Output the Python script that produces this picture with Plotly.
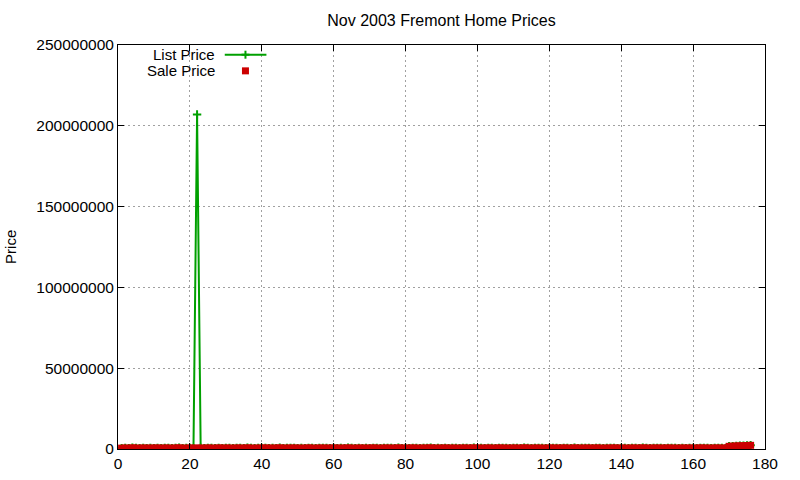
import plotly.graph_objects as go

# listing number (x) and prices in thousands of dollars
listing = list(range(1, 177))

list_price_k = [
    549, 599, 499, 749, 589, 459, 675, 525, 629, 565, 699, 495, 649, 599, 539, 610,
    739, 505, 579, 649, 569, 207000, 599, 535, 679, 599, 475, 719, 549, 639, 575, 510,
    665, 599, 545, 729, 585, 485, 649, 575, 699, 529, 609, 569, 749, 499, 635, 589,
    669, 549, 599, 525, 699, 609, 489, 659, 579, 625, 519, 695, 565, 599, 549, 729,
    579, 499, 649, 569, 619, 535, 699, 589, 479, 669, 585, 619, 515, 739, 569, 599,
    555, 689, 585, 529, 639, 579, 765, 509, 625, 565, 699, 539, 615, 589, 485, 679,
    599, 549, 729, 565, 635, 519, 679, 595, 545, 699, 579, 625, 499, 665, 589, 555,
    749, 599, 529, 649, 575, 619, 495, 699, 585, 639, 549, 689, 599, 515, 729, 565,
    619, 579, 659, 535, 695, 599, 489, 645, 575, 719, 549, 629, 585, 509, 675, 599,
    555, 735, 615, 525, 665, 589, 649, 539, 699, 579, 605, 499, 685, 565, 629, 595,
    549, 715, 585, 619, 525, 669, 599, 645, 559,
    1695, 1799, 1898, 1995, 2095, 2195, 2299,
]

sale_price_k = [
    545, 612, 489, 735, 598, 455, 680, 519, 623, 570, 702, 488, 655, 590, 533, 618,
    742, 499, 585, 640, 560, 575, 610, 528, 689, 597, 468, 715, 552, 633, 580, 505,
    660, 612, 538, 725, 590, 478, 645, 570, 698, 525, 615, 560, 750, 502, 628, 583,
    670, 545, 595, 520, 710, 600, 482, 655, 575, 630, 515, 690, 560, 605, 540, 720,
    588, 495, 648, 572, 615, 530, 705, 595, 470, 665, 580, 625, 510, 735, 565, 600,
    548, 685, 590, 520, 640, 575, 760, 505, 620, 568, 695, 535, 610, 585, 480, 672,
    598, 545, 720, 560, 630, 515, 680, 590, 540, 705, 575, 620, 498, 660, 585, 550,
    745, 600, 525, 650, 570, 615, 490, 700, 580, 635, 540, 688, 595, 510, 725, 560,
    618, 575, 655, 530, 690, 600, 485, 640, 570, 715, 545, 625, 580, 505, 670, 595,
    550, 730, 610, 520, 660, 585, 640, 535, 705, 575, 600, 495, 680, 560, 625, 590,
    545, 710, 580, 615, 520, 665, 598, 640, 555,
    1650, 1780, 1890, 1950, 2050, 2150, 2280,
]

list_price = [v * 1000 for v in list_price_k]
sale_price = [v * 1000 for v in sale_price_k]

GREEN = "#00a000"
RED = "#cc0000"
FONT = "Liberation Sans, Arial, sans-serif"

fig = go.Figure()
fig.add_trace(go.Scatter(
    x=listing, y=list_price, name="List Price", mode="lines+markers",
    line=dict(color=GREEN, width=2),
    marker=dict(symbol="cross-thin", size=6, line=dict(color=GREEN, width=2)),
))
fig.add_trace(go.Scatter(
    x=listing, y=sale_price, name="Sale Price", mode="markers",
    marker=dict(symbol="square", size=7, color=RED, line=dict(width=0)),
))

axis_style = dict(
    ticks="inside", ticklen=6, tickcolor="black",
    showline=True, linecolor="black", linewidth=1, mirror="ticks",
    showgrid=True, gridcolor="#a0a0a0", gridwidth=1, griddash="2px,3px",
    zeroline=False, automargin=False, tickfont=dict(size=15.5, color="black"),
)
fig.update_xaxes(range=[0, 180], tick0=0, dtick=20, **axis_style)
fig.update_yaxes(range=[0, 250e6], tick0=0, dtick=50e6, tickformat="d", **axis_style)

fig.add_annotation(x=-0.167, y=0.5, xref="paper", yref="paper", text="Price",
                   textangle=-90, showarrow=False, xanchor="center", yanchor="middle",
                   font=dict(size=15, color="black"))

# gnuplot-style key: text on the left, sample on the right
key_x, key_text_x = 0.197, 0.1535
key_y1, key_y2 = 0.976, 0.936
fig.add_annotation(x=key_text_x, y=key_y1, xref="paper", yref="paper", text="List Price",
                   showarrow=False, xanchor="right", yanchor="middle",
                   font=dict(size=15, color="black"))
fig.add_annotation(x=key_text_x, y=key_y2, xref="paper", yref="paper", text="Sale Price",
                   showarrow=False, xanchor="right", yanchor="middle",
                   font=dict(size=15, color="black"))
fig.add_shape(type="line", xref="paper", yref="paper", x0=0.165, x1=0.2294,
              y0=key_y1, y1=key_y1, line=dict(color=GREEN, width=2))
fig.add_shape(type="line", xref="paper", yref="paper", xsizemode="pixel", xanchor=key_x,
              x0=-4, x1=4, y0=key_y1, y1=key_y1, line=dict(color=GREEN, width=2))
fig.add_shape(type="line", xref="paper", yref="paper", ysizemode="pixel", yanchor=key_y1,
              x0=key_x, x1=key_x, y0=-4, y1=4, line=dict(color=GREEN, width=2))
fig.add_shape(type="rect", xref="paper", yref="paper", xsizemode="pixel", ysizemode="pixel",
              xanchor=key_x, yanchor=key_y2, x0=-3.5, x1=3.5, y0=-3.5, y1=3.5,
              fillcolor=RED, line=dict(width=0))

fig.update_layout(
    width=800, height=480,
    margin=dict(l=118, r=35, t=45, b=31),
    paper_bgcolor="white", plot_bgcolor="white",
    font=dict(family=FONT, color="black"),
    title=dict(text="Nov 2003 Fremont Home Prices", x=0.5, xref="paper",
               y=1 - 20 / 480, yref="container", yanchor="middle",
               font=dict(size=16, color="black")),
    showlegend=False,
)

# drop the default page margin so the figure sits at the window's corner
fig.write_html("out.html", config={"displayModeBar": False},
               post_script="document.body.style.margin = '0';")
